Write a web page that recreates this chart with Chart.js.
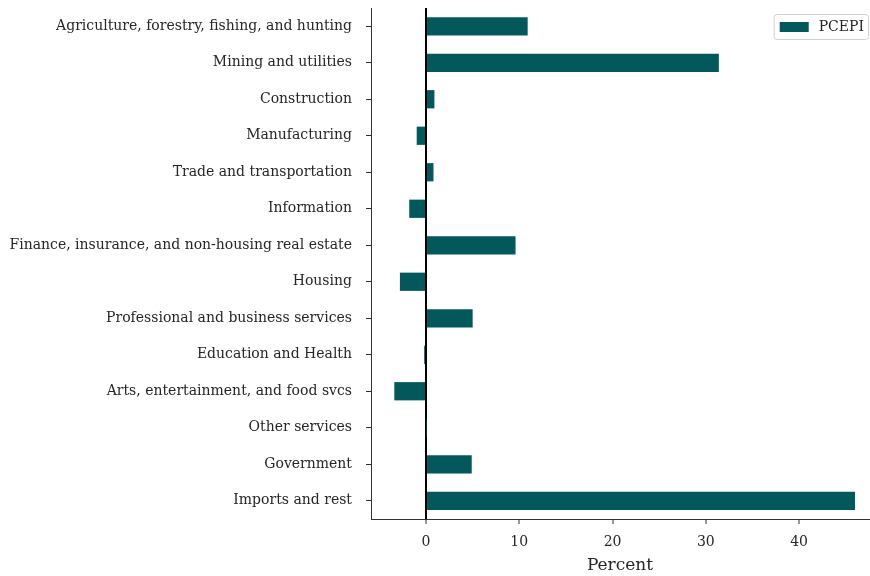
<!DOCTYPE html>
<html>
<head>
<meta charset="utf-8">
<script src="https://cdn.jsdelivr.net/npm/chart.js@4"></script>
<style>
  body { margin: 0; background: #fff; }
  #wrap { width: 870px; height: 576px; }
</style>
</head>
<body>
<div id="wrap"><canvas id="chart" width="870" height="576"></canvas></div>
<script>
const categories = [
    "Agriculture, forestry, fishing, and hunting",
    "Mining and utilities",
    "Construction",
    "Manufacturing",
    "Trade and transportation",
    "Information",
    "Finance, insurance, and non-housing real estate",
    "Housing",
    "Professional and business services",
    "Education and Health",
    "Arts, entertainment, and food svcs",
    "Other services",
    "Government",
    "Imports and rest"
]
const pcepi = [10.9, 31.4, 0.9, -1.0, 0.8, -1.8, 9.6, -2.8, 5.0, -0.2, -3.4, 0.05, 4.9, 46.0]
const xTicks = [0, 10, 20, 30, 40]

const font = "'DejaVu Serif', serif"
const ink = "#262626"

let object = document.getElementById("chart")

// legend drawn inside the plot, upper right, like matplotlib
const boxLegend = {
    id: "boxLegend",
    afterDraw(chart) {
        let ctx = chart.ctx
        let area = chart.chartArea
        let ds = chart.data.datasets[0]
        ctx.save()
        ctx.font = "14px " + font
        let tw = ctx.measureText(ds.label).width
        let w = 6 + 29 + 10 + tw + 5
        let h = 25
        let x = area.right - w
        let y = area.top + 6
        ctx.beginPath()
        ctx.roundRect(x + 0.5, y + 0.5, w - 1, h, 3)
        ctx.fillStyle = "rgba(255,255,255,0.8)"
        ctx.fill()
        ctx.strokeStyle = "#d0d0d0"
        ctx.lineWidth = 1
        ctx.stroke()
        ctx.fillStyle = ds.backgroundColor
        ctx.fillRect(x + 6, y + 8, 29, 10)
        ctx.fillStyle = ink
        ctx.textBaseline = "middle"
        ctx.fillText(ds.label, x + 45, y + h / 2 + 1)
        ctx.restore()
    }
}

let config = {
    type: "bar",
    data: {
        labels: categories,
        datasets: [
            {
                label: "PCEPI",
                data: pcepi,
                backgroundColor: "#02585a",
                barPercentage: 0.5,
                categoryPercentage: 1.0
            }
        ]
    },
    plugins: [boxLegend],
    options: {
        indexAxis: "y",
        responsive: false,
        animation: false,
        layout: { padding: { left: 0, right: 1, top: 8, bottom: 0 } },
        plugins: {
            legend: { display: false },
            tooltip: { enabled: false }
        },
        scales: {
            x: {
                min: -5.9,
                max: 47.5,
                afterBuildTicks: scale => {
                    scale.ticks = xTicks.map(v => ({ value: v }))
                },
                afterFit: scale => {
                    scale.height = 57
                    scale.paddingLeft = 0
                    scale.paddingRight = 0
                },
                grid: {
                    color: ctx => (ctx.tick && ctx.tick.value === 0) ? "#000" : "rgba(0,0,0,0)",
                    lineWidth: ctx => (ctx.tick && ctx.tick.value === 0) ? 2 : 0,
                    tickColor: "#333",
                    tickWidth: 1,
                    tickLength: 5,
                    drawOnChartArea: true
                },
                border: { display: true, color: "#333", width: 1 },
                ticks: {
                    font: { family: font, size: 14 },
                    color: ink,
                    padding: 10
                },
                title: {
                    display: true,
                    text: "Percent",
                    font: { family: font, size: 17 },
                    color: ink,
                    padding: { top: 0, bottom: 0 }
                }
            },
            y: {
                afterFit: scale => {
                    scale.width = 371
                    scale.paddingTop = 0
                    scale.paddingBottom = 0
                },
                grid: {
                    offset: false,
                    drawOnChartArea: false,
                    tickLength: 5,
                    color: "#333"
                },
                border: { display: true, color: "#333", width: 1 },
                ticks: {
                    font: { family: font, size: 14 },
                    color: ink,
                    padding: 14
                }
            }
        }
    }
}

let chart = new Chart(object, config)
</script>
</body>
</html>
